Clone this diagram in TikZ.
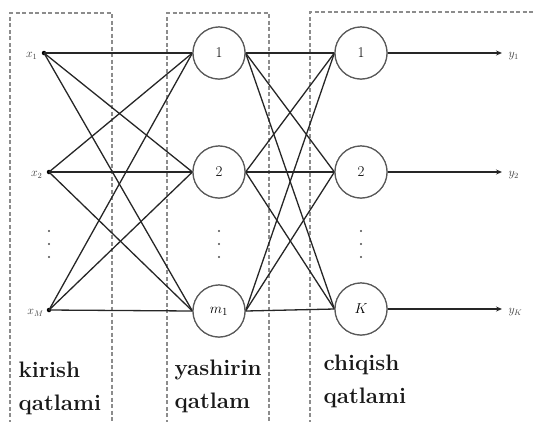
\documentclass[tikz,border=0pt]{standalone}
\usetikzlibrary{arrows.meta}
\begin{document}
\begin{tikzpicture}[x=1bp,y=-1bp,
  boxline/.style={draw=black!45,dashed,dash pattern=on 4bp off 2.5bp,line width=1.3bp},
  conn/.style={draw=black!85,line width=1.3bp},
  neuron/.style={circle,draw=black!65,line width=1.2bp,minimum size=52bp,inner sep=0pt,font=\fontsize{15}{17}\selectfont,fill=white},
  indot/.style={circle,fill=black,minimum size=4.5bp,inner sep=0pt},
  vdot/.style={circle,fill=black!70,minimum size=2.2bp,inner sep=0pt},
  inlabel/.style={font=\fontsize{12}{14}\selectfont,text=black!75},
  layertext/.style={font=\fontsize{22.5}{33}\selectfont\bfseries,align=left,anchor=base west,text=black!90},
  outarrow/.style={conn,-{Stealth[length=6bp,width=5bp]}}]
\useasboundingbox (0,0) rectangle (533,421);
\clip (0,0) rectangle (533,421);
% layer boxes
\draw[boxline] (10,430) -- (10,13) -- (112,13) -- (112,430);
\draw[boxline] (167,430) -- (167,13) -- (269,13) -- (269,430);
\draw[boxline] (310,430) -- (310,12) -- (545,12);
% input nodes
\node[indot] (x1) at (44,53) {};
\node[indot] (x2) at (49,172) {};
\node[indot] (xM) at (49,310) {};
\node[inlabel,anchor=east] (lx1) at (41,56) {$x_1$};
\node[inlabel,anchor=east] (lx2) at (46,175) {$x_2$};
\node[inlabel,anchor=east] (lxM) at (47,313) {$x_M$};
% hidden nodes
\node[neuron] (h1) at (219,53) {1};
\node[neuron] (h2) at (219,172) {2};
\node[neuron] (hm) at (219,311) {$m_1$};
% output nodes
\node[neuron] (o1) at (361,53) {1};
\node[neuron] (o2) at (361,172) {2};
\node[neuron] (oK) at (361,309) {$K$};
% vertical dots
\foreach \xx in {49,219,361}{
  \node[vdot] (d1\xx) at (\xx,231) {};
  \node[vdot] (d2\xx) at (\xx,244) {};
  \node[vdot] (d3\xx) at (\xx,257) {};
}
% connections input -> hidden
\foreach \i in {x1,x2,xM}{
  \foreach \j in {h1,h2,hm}{
    \draw[conn] (\i.center) -- (\j.west);
  }
}
% connections hidden -> output
\foreach \i in {h1,h2,hm}{
  \foreach \j in {o1,o2,oK}{
    \draw[conn] (\i.east) -- (\j.west);
  }
}
% redraw neurons above lines
\node[neuron] at (h1) {1};
\node[neuron] at (h2) {2};
\node[neuron] at (hm) {$m_1$};
\node[neuron] at (o1) {1};
\node[neuron] at (o2) {2};
\node[neuron] at (oK) {$K$};
% outputs
\coordinate (e1) at (502,53);
\coordinate (e2) at (502,172);
\coordinate (eK) at (502,309);
\draw[outarrow] (o1.east) -- (e1);
\draw[outarrow] (o2.east) -- (e2);
\draw[outarrow] (oK.east) -- (eK);
\node[inlabel,anchor=west] (ly1) at (505,56) {$y_1$};
\node[inlabel,anchor=west] (ly2) at (505,175) {$y_2$};
\node[inlabel,anchor=west] (lyK) at (505,312) {$y_K$};
% layer labels
\node[layertext] (t1) at (15,410) {kirish\\qatlami};
\node[layertext] (t2) at (171,408) {yashirin\\qatlam};
\node[layertext] (t3) at (320,403) {chiqish\\qatlami};
\end{tikzpicture}
\end{document}
